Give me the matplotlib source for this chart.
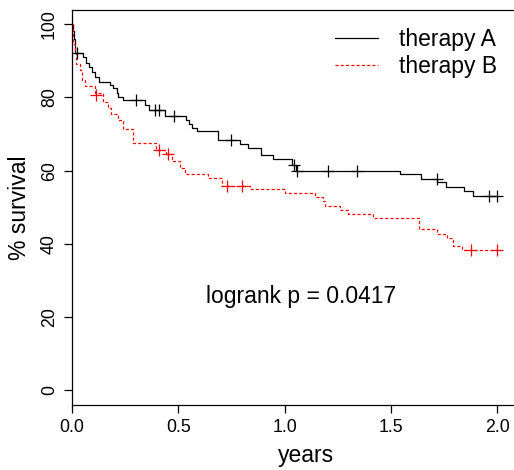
import matplotlib
matplotlib.use("Agg")
import matplotlib.pyplot as plt

plt.rcParams['font.family'] = ['Liberation Sans', 'DejaVu Sans']
plt.rcParams['lines.scale_dashes'] = False

# Therapy A: step times and survival (%) after each step
time_A = [0.0, 0.004, 0.008, 0.012, 0.016, 0.05, 0.065, 0.08, 0.095, 0.11, 0.128,
          0.179, 0.194, 0.210, 0.218, 0.241, 0.343, 0.36, 0.437, 0.537, 0.55,
          0.565, 0.587, 0.686, 0.79, 0.83, 0.89, 0.945, 1.035, 1.055, 1.544,
          1.642, 1.719, 1.758, 1.846, 1.889, 2.0]
surv_A = [100.0, 98.0, 96.0, 94.1, 92.2, 90.9, 89.5, 88.2, 86.9, 85.6, 84.3,
          83.4, 82.5, 81.1, 80.0, 79.3, 77.9, 76.6, 75.0, 73.9, 72.8,
          71.7, 70.7, 68.5, 67.4, 66.1, 64.3, 63.1, 61.5, 60.0, 59.0,
          57.8, 56.8, 55.4, 54.4, 53.1, 53.1]
cens_t_A = [0.022, 0.30, 0.39, 0.41, 0.48, 0.75, 1.045, 1.06, 1.206, 1.343, 1.719, 1.962, 2.0]
cens_s_A = [92.2, 79.3, 76.6, 76.6, 75.0, 68.5, 61.5, 60.0, 60.0, 60.0, 57.8, 53.1, 53.1]

# Therapy B
time_B = [0.0, 0.004, 0.006, 0.012, 0.02, 0.038, 0.045, 0.06, 0.108, 0.147, 0.17,
          0.185, 0.218, 0.24, 0.285, 0.395, 0.44, 0.47, 0.51, 0.534, 0.64, 0.705,
          0.838, 1.002, 1.144, 1.183, 1.191, 1.261, 1.30, 1.418, 1.634, 1.716,
          1.763, 1.794, 1.834, 2.0]
surv_B = [100.0, 97.3, 94.7, 92.0, 89.0, 87.5, 84.7, 83.0, 81.1, 78.8, 77.0,
          75.4, 73.8, 71.5, 67.6, 65.7, 64.6, 62.5, 60.7, 59.1, 57.9, 55.9,
          55.0, 53.9, 52.7, 51.6, 50.4, 49.3, 48.2, 47.0, 44.0, 42.7,
          41.6, 39.5, 38.4, 38.4]
cens_t_B = [0.115, 0.41, 0.453, 0.728, 0.799, 1.876, 2.0]
cens_s_B = [80.7, 65.7, 64.6, 55.9, 55.9, 38.4, 38.4]

x_ticks = [0.0, 0.5, 1.0, 1.5, 2.0]
x_tick_labels = ["0.0", "0.5", "1.0", "1.5", "2.0"]
y_ticks = [0, 20, 40, 60, 80, 100]
y_tick_labels = ["0", "20", "40", "60", "80", "100"]

W, H = 514, 470
fig = plt.figure(figsize=(W / 100, H / 100), dpi=100)
left_px, right_px, top_px, bot_px = 72, 540, 9.5, 405
ax = fig.add_axes([left_px / W, (H - bot_px) / H, (right_px - left_px) / W, (bot_px - top_px) / H])
ax.set_xlim(0, (right_px - left_px) / 212.5)
ax.set_ylim(-4, 104)

lw = 0.9
ax.plot(time_A, surv_A, drawstyle='steps-post', color='black', lw=lw, label='therapy A')
ax.plot(time_B, surv_B, drawstyle='steps-post', color='red', lw=lw,
        linestyle=(0, (2.2, 1.6)), label='therapy B')
ax.plot(cens_t_A, cens_s_A, linestyle='none', marker='+', color='black', ms=9, mew=0.9)
ax.plot(cens_t_B, cens_s_B, linestyle='none', marker='+', color='red', ms=9, mew=0.9)

ax.spines['right'].set_visible(False)
for s in ['left', 'top', 'bottom']:
    ax.spines[s].set_linewidth(0.9)

ax.set_xticks(x_ticks)
ax.set_xticklabels(x_tick_labels, fontsize=12.8)
ax.set_yticks(y_ticks)
ax.set_yticklabels(y_tick_labels, fontsize=12.8, rotation=90, va='center')
ax.tick_params(axis='both', length=6, width=0.9, direction='out')
ax.tick_params(axis='x', pad=4)
ax.tick_params(axis='y', pad=4)

ax.set_xlabel('years', fontsize=16.5, labelpad=6)
ax.set_ylabel('% survival', fontsize=16.5, labelpad=7)

ax.text(1.08, 25.6, 'logrank p = 0.0417', fontsize=16.5, ha='center', va='center')

leg = ax.legend(loc='upper left',
                bbox_to_anchor=((335 - left_px) / (right_px - left_px), 1 - (28 - top_px) / (bot_px - top_px)),
                frameon=False, fontsize=16.5, handlelength=1.88, handletextpad=0.92,
                labelspacing=0.17, borderaxespad=0, borderpad=0)

fig.savefig('out.png', dpi=100)
